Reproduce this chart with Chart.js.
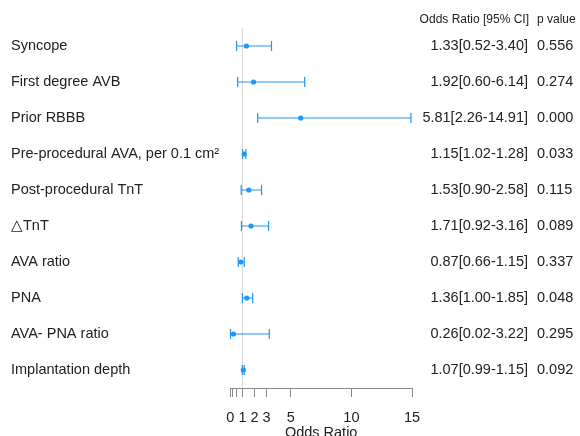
<!DOCTYPE html>
<html>
<head>
<meta charset="utf-8">
<script src="https://cdn.jsdelivr.net/npm/chart.js@4.4.0/dist/chart.umd.min.js"></script>
<style>
  html, body { margin: 0; padding: 0; background: #fff; }
  #wrap { width: 580px; height: 436px; position: relative; }
</style>
</head>
<body>
<div id="wrap"><canvas id="c"></canvas></div>
<script>
// ---- data ----
const categories = [
  'Syncope',
  'First degree AVB',
  'Prior RBBB',
  'Pre-procedural AVA, per 0.1 cm\u00B2',
  'Post-procedural TnT',
  '\u25B3TnT',
  'AVA ratio',
  'PNA',
  'AVA- PNA ratio',
  'Implantation depth'
];
const oddsRatio = [1.33, 1.92, 5.81, 1.15, 1.53, 1.71, 0.87, 1.36, 0.26, 1.07];
const ciLower   = [0.52, 0.60, 2.26, 1.02, 0.90, 0.92, 0.66, 1.00, 0.02, 0.99];
const ciUpper   = [3.40, 6.14, 14.91, 1.28, 2.58, 3.16, 1.15, 1.85, 3.22, 1.15];
const pValues   = [0.556, 0.274, 0.000, 0.033, 0.115, 0.089, 0.337, 0.048, 0.295, 0.092];
const xTicks      = [0, 0.2, 0.5, 1, 2, 3, 5, 10, 15];
const xTickLabels = ['0', '', '', '1', '2', '3', '5', '10', '15'];
const referenceValue = 1;

// ---- styles ----
const BLUE = '#2196F3';
const TEXT = '#222';
const FONT = "'Liberation Sans', Arial, Helvetica, sans-serif";
const FS = 14.5;

const pointData = oddsRatio.map((v, i) => ({x: v, y: i}));

const errorBars = {
  id: 'errorBars',
  beforeDatasetDraw(chart, args) {
    if (args.index !== 0) return;
    const {ctx, scales: {x, y}} = chart;
    ctx.save();
    ctx.strokeStyle = BLUE;
    ctx.lineWidth = 1.2;
    for (let i = 0; i < categories.length; i++) {
      const py = y.getPixelForValue(i);
      const x0 = x.getPixelForValue(ciLower[i]);
      const x1 = x.getPixelForValue(ciUpper[i]);
      ctx.beginPath();
      ctx.moveTo(x0, py); ctx.lineTo(x1, py);
      ctx.moveTo(x0, py - 5); ctx.lineTo(x0, py + 5);
      ctx.moveTo(x1, py - 5); ctx.lineTo(x1, py + 5);
      ctx.stroke();
    }
    ctx.restore();
  }
};

const sideTable = {
  id: 'sideTable',
  afterDraw(chart) {
    const {ctx, scales: {y}} = chart;
    ctx.save();
    ctx.fillStyle = TEXT;
    ctx.textBaseline = 'middle';
    ctx.font = '12px ' + FONT;
    ctx.textAlign = 'right';
    ctx.fillText('Odds Ratio [95% CI]', 529, 20);
    ctx.textAlign = 'left';
    ctx.fillText('p value', 537, 20);
    ctx.font = FS + 'px ' + FONT;
    for (let i = 0; i < categories.length; i++) {
      const py = y.getPixelForValue(i);
      ctx.textAlign = 'right';
      ctx.fillText(oddsRatio[i].toFixed(2) + '[' + ciLower[i].toFixed(2) + '-' + ciUpper[i].toFixed(2) + ']', 528, py);
      ctx.textAlign = 'left';
      ctx.fillText(pValues[i].toFixed(3), 537, py);
    }
    ctx.restore();
  }
};

new Chart(document.getElementById('c'), {
  type: 'scatter',
  data: {
    datasets: [
      {
        label: 'Odds ratio',
        data: pointData,
        backgroundColor: BLUE,
        borderColor: BLUE,
        pointRadius: 2.6,
        pointHoverRadius: 2.6,
        borderWidth: 0
      },
      {
        label: 'reference',
        type: 'line',
        data: [{x: referenceValue, y: -0.5}, {x: referenceValue, y: categories.length - 0.5}],
        borderColor: '#dcdcdc',
        borderWidth: 1.2,
        pointRadius: 0,
        fill: false
      }
    ]
  },
  options: {
    responsive: true,
    maintainAspectRatio: false,
    animation: false,
    devicePixelRatio: 1,
    layout: { padding: { left: 11, right: 168, top: 28, bottom: 0 } },
    plugins: {
      legend: { display: false },
      tooltip: { enabled: false },
      title: { display: false }
    },
    scales: {
      x: {
        type: 'linear',
        min: 0,
        max: 15,
        afterBuildTicks(scale) { scale.ticks = xTicks.map(v => ({value: v})); },
        afterFit(scale) { scale.height = 48; },
        ticks: {
          autoSkip: false,
          maxRotation: 0,
          padding: 12,
          color: TEXT,
          font: { family: FONT, size: FS },
          callback(value) {
            const idx = xTicks.indexOf(value);
            return idx >= 0 ? xTickLabels[idx] : '';
          }
        },
        grid: { drawOnChartArea: false, drawTicks: true, tickLength: 9, color: '#888', lineWidth: 1 },
        border: { display: true, color: '#888', width: 1 },
        title: {
          display: true,
          text: 'Odds Ratio',
          color: TEXT,
          font: { family: FONT, size: FS },
          padding: { top: 0, bottom: -6 }
        }
      },
      y: {
        type: 'linear',
        reverse: true,
        min: -0.5,
        max: categories.length - 0.5,
        afterBuildTicks(scale) { scale.ticks = categories.map((c, i) => ({value: i})); },
        afterFit(scale) { scale.width = 219.3; },
        ticks: {
          autoSkip: false,
          crossAlign: 'far',
          color: TEXT,
          font: { family: FONT, size: FS },
          callback(value) { return categories[value] !== undefined ? categories[value] : ''; }
        },
        grid: { display: false },
        border: { display: false }
      }
    }
  },
  plugins: [errorBars, sideTable]
});
</script>
</body>
</html>
